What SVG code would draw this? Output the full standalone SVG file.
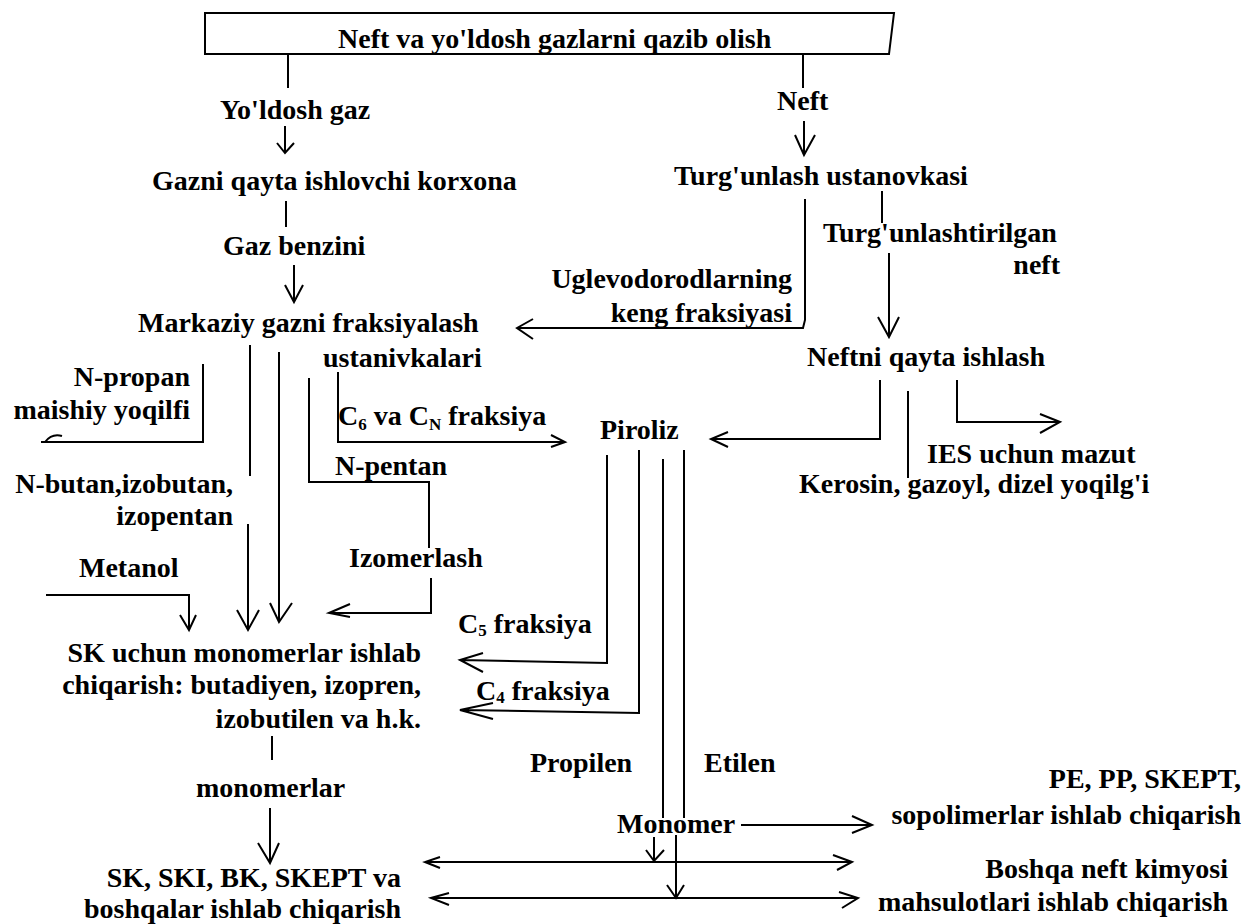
<svg xmlns="http://www.w3.org/2000/svg" width="1244" height="924" viewBox="0 0 1244 924">
<style>
text{font-family:"Liberation Serif","Times New Roman",serif;font-weight:bold;font-size:28px;fill:#000}
.e{text-anchor:end}
.sub{font-size:17px}
.ln{fill:none;stroke:#000;stroke-width:2;stroke-linejoin:miter}
</style>
<rect width="1244" height="924" fill="#fff"/>
<g id="connectors" class="ln">
<polygon points="205,13 894,13 889,54 205,54"/>
<path d="M288,54V88M803,54V88"/>
<path d="M285,126V153M277,143L285,153L294,143"/>
<path d="M804,121V155M795,135L804,155L815,135"/>
<path d="M286,201V227"/>
<path d="M294,265V302M285,285L294,302L303,285"/>
<path d="M805,199V320L803,328H517M533,319L517,328L533,339"/>
<path d="M882,191V223"/>
<path d="M889,253V337M878,317L889,337L899,317"/>
<path d="M250,345V476"/>
<path d="M279,352V622M270,603L279,622L292,603"/>
<path d="M309,378V482H429V548"/>
<path d="M431,578V613H329M350,604L329,613L350,617"/>
<path d="M338,372V442H565M551,435L565,442L551,447"/>
<path d="M203,364V442H41M45,442Q52,433 62,436"/>
<path d="M248,524V630M237,610L248,630L259,610"/>
<path d="M46,595H189V630M180,615L189,630L196,615"/>
<path d="M880,380V439H711M728,432L711,439L728,447"/>
<path d="M908,391V478"/>
<path d="M957,380V422H1060M1040,414L1060,422L1040,433"/>
<path d="M607,455V663L460,660M483,653L460,660L483,672"/>
<path d="M639,450V713L460,710M493,703L460,710L493,719"/>
<path d="M663,459V818M684,450V818"/>
<path d="M741,825H872M852,816L872,825L852,833"/>
<path d="M654,837V861M646,850L654,861L664,850"/>
<path d="M676,835V898M667,885L676,898L684,885"/>
<path d="M425,862H852M440,857L425,862L440,868M833,855L852,862L837,870"/>
<path d="M431,898H858M449,893L431,898L449,905M839,892L858,898L842,908"/>
<path d="M272,736V760"/>
<path d="M270,808V863M258,843L270,863L279,843"/>
</g>
<g id="n-extraction"><text x="338" y="48">Neft va yo'ldosh gazlarni qazib olish</text></g>
<g id="n-yoldosh-gaz"><text x="220" y="119">Yo'ldosh gaz</text></g>
<g id="n-neft"><text x="777" y="110">Neft</text></g>
<g id="n-gazni-qayta"><text x="152" y="190">Gazni qayta ishlovchi korxona</text></g>
<g id="n-gaz-benzini"><text x="223" y="255">Gaz benzini</text></g>
<g id="n-turgunlash"><text x="674" y="185">Turg'unlash ustanovkasi</text></g>
<g id="n-turgunlashtirilgan"><text x="823" y="242">Turg'unlashtirilgan</text><text class="e" x="1060" y="274">neft</text></g>
<g id="n-uglevodorod"><text class="e" x="792" y="288">Uglevodorodlarning</text><text class="e" x="792" y="322">keng fraksiyasi</text></g>
<g id="n-markaziy"><text x="138" y="332">Markaziy gazni fraksiyalash</text><text x="323" y="367">ustanivkalari</text></g>
<g id="n-neftni-qayta"><text x="807" y="366">Neftni qayta ishlash</text></g>
<g id="n-propan"><text class="e" x="190" y="386">N-propan</text><text class="e" x="190" y="419">maishiy yoqilfi</text></g>
<g id="n-c6cn"><text x="338" y="425">C<tspan class="sub" dy="5">6</tspan><tspan dy="-5"> va C</tspan><tspan class="sub" dy="5">N</tspan><tspan dy="-5"> fraksiya</tspan></text></g>
<g id="n-piroliz"><text x="600" y="439">Piroliz</text></g>
<g id="n-ies"><text x="927" y="463">IES uchun mazut</text></g>
<g id="n-kerosin"><text x="799" y="493">Kerosin, gazoyl, dizel yoqilg'i</text></g>
<g id="n-pentan"><text x="335" y="475">N-pentan</text></g>
<g id="n-butan"><text class="e" x="233" y="493">N-butan,izobutan,</text><text class="e" x="233" y="525">izopentan</text></g>
<g id="n-izomerlash"><text x="349" y="567">Izomerlash</text></g>
<g id="n-metanol"><text x="79" y="577">Metanol</text></g>
<g id="n-c5"><text x="458" y="633">C<tspan class="sub" dy="3">5</tspan><tspan dy="-3"> fraksiya</tspan></text></g>
<g id="n-sk-monomer"><text class="e" x="421" y="662">SK uchun monomerlar ishlab</text><text class="e" x="421" y="694">chiqarish: butadiyen, izopren,</text><text class="e" x="421" y="728">izobutilen va h.k.</text></g>
<g id="n-c4"><text x="476" y="700">C<tspan class="sub" dy="3">4</tspan><tspan dy="-3"> fraksiya</tspan></text></g>
<g id="n-propilen"><text x="530" y="772">Propilen</text></g>
<g id="n-etilen"><text x="704" y="772">Etilen</text></g>
<g id="n-pe-pp"><text class="e" x="1241" y="788">PE, PP, SKEPT,</text><text class="e" x="1241" y="824">sopolimerlar ishlab chiqarish</text></g>
<g id="n-monomer"><text x="617" y="833">Monomer</text></g>
<g id="n-monomerlar"><text x="196" y="797">monomerlar</text></g>
<g id="n-sk-ski"><text class="e" x="401" y="887">SK, SKI, BK, SKEPT va</text><text class="e" x="401" y="918">boshqalar ishlab chiqarish</text></g>
<g id="n-boshqa"><text class="e" x="1228" y="878">Boshqa neft kimyosi</text><text class="e" x="1228" y="911">mahsulotlari ishlab chiqarish</text></g>
</svg>
